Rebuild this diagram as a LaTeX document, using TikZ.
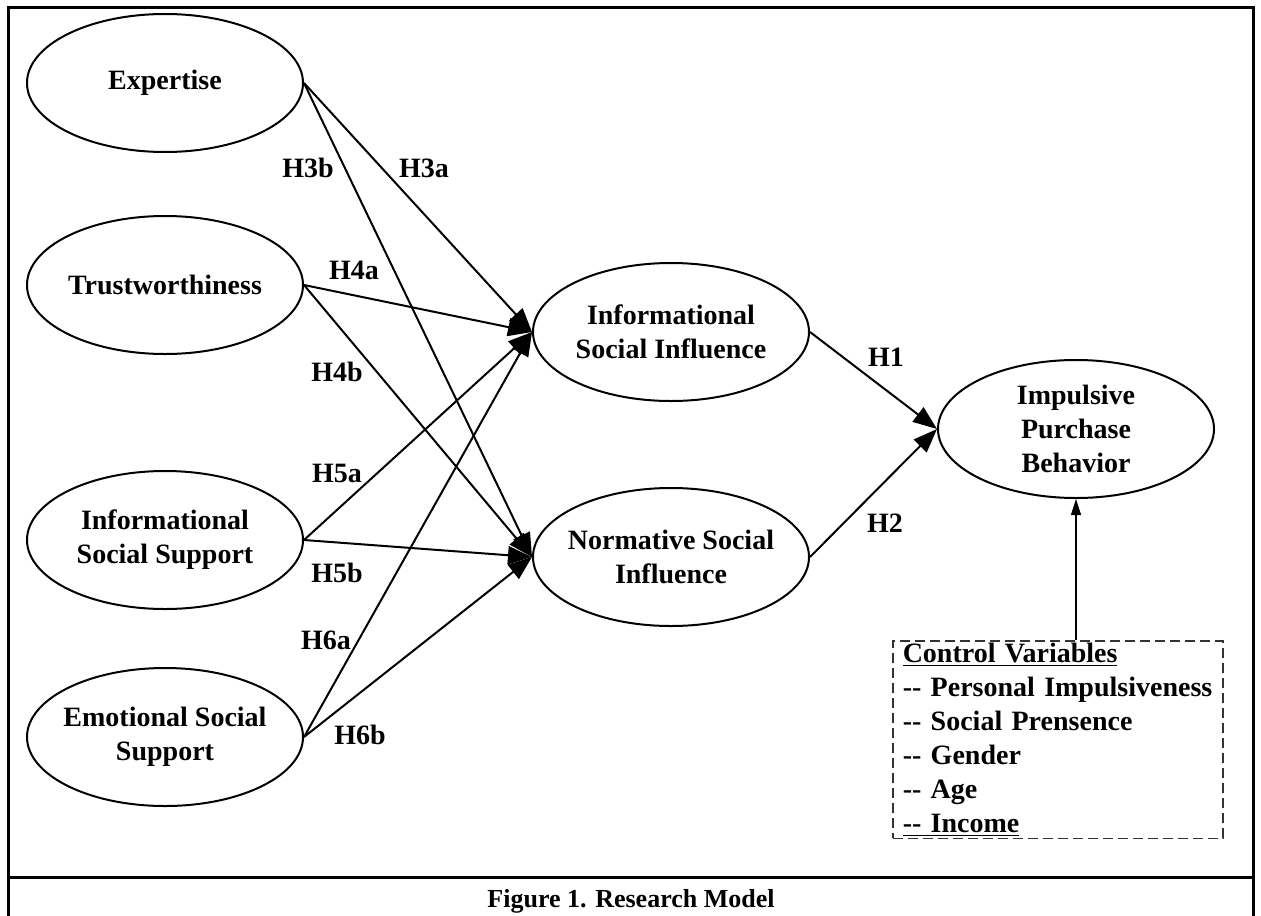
\documentclass[tikz,border=0pt]{standalone}
\usepackage{fontspec}
\setmainfont{Liberation Serif}[Ligatures=TeXOff]
\usetikzlibrary{shapes.geometric,arrows.meta}

\tikzset{
  construct/.style={draw, line width=1pt, ellipse, minimum width=138pt, minimum height=69pt,
    inner xsep=-4pt, inner ysep=0pt, align=center, font=\fontsize{14}{17}\selectfont\bfseries},
  hyp/.style={inner sep=0pt, font=\fontsize{14}{17}\selectfont\bfseries},
  link/.style={line width=1pt, -{Triangle[length=12pt,width=9pt]}},
  ctrllink/.style={line width=0.6pt, -{Triangle[length=8pt,width=5pt]}},
  ctrlbox/.style={draw=black!80, dash pattern=on 5pt off 2.5pt, line width=0.75pt,
    align=left, text width=155pt, minimum height=98.5pt, inner xsep=5pt, inner ysep=1pt,
    font=\fontsize{14}{17}\selectfont\bfseries}
}

\begin{document}
\begin{tikzpicture}[x=0.5pt,y=-0.5pt]
  \useasboundingbox (0,0) rectangle (1261,915);
  % frame and caption row
  \draw[line width=1.5pt] (8.5,920) |- (1253,8) -- (1253,920);
  \draw[line width=1.5pt] (8.5,877) -- (1253,877);
  \node[anchor=base, font=\fontsize{13}{15}\selectfont\bfseries] (cap) at (631,907) {Figure 1. Research Model};

  % constructs
  \node[construct] (exp)   at (165,83)  {Expertise};
  \node[construct] (trust) at (165,285) {Trustworthiness};
  \node[construct] (iss)   at (165,540) {Informational\\Social Support};
  \node[construct] (ess)   at (165,737) {Emotional Social\\Support};
  \node[construct] (isi)   at (671,332) {Informational\\Social Influence};
  \node[construct] (nsi)   at (671,557) {Normative Social\\Influence};
  \node[construct] (ipb)   at (1076,429) {Impulsive\\Purchase\\Behavior};

  % hypothesis labels
  \node[hyp] (h3a) at (424,168) {H3a};
  \node[hyp] (h3b) at (308,168) {H3b};
  \node[hyp] (h4a) at (354,270) {H4a};
  \node[hyp] (h4b) at (337,372) {H4b};
  \node[hyp] (h5a) at (337,473) {H5a};
  \node[hyp] (h5b) at (337,573) {H5b};
  \node[hyp] (h6a) at (326,640) {H6a};
  \node[hyp] (h6b) at (360,735) {H6b};
  \node[hyp] (h1)  at (886,357) {H1};
  \node[hyp] (h2)  at (885,523) {H2};

  % paths
  \draw[link] (exp.east)   -- (isi.west);
  \draw[link] (exp.east)   -- (nsi.west);
  \draw[link] (trust.east) -- (isi.west);
  \draw[link] (trust.east) -- (nsi.west);
  \draw[link] (iss.east)   -- (isi.west);
  \draw[link] (iss.east)   -- (nsi.west);
  \draw[link] (ess.east)   -- (isi.west);
  \draw[link] (ess.east)   -- (nsi.west);
  \draw[link] (isi.east)   -- (ipb.west);
  \draw[link] (nsi.east)   -- (ipb.west);

  % control variables
  \node[ctrlbox, anchor=north west] (ctrl) at (892,640)
    {\underline{Control Variables}\\
     -- Personal Impulsiveness\\
     -- Social Prensence\\
     -- Gender\\
     -- Age\\
     \underline{-- Income}};
  \draw[ctrllink] (ipb.south |- ctrl.north) -- (ipb.south);
\end{tikzpicture}
\end{document}
